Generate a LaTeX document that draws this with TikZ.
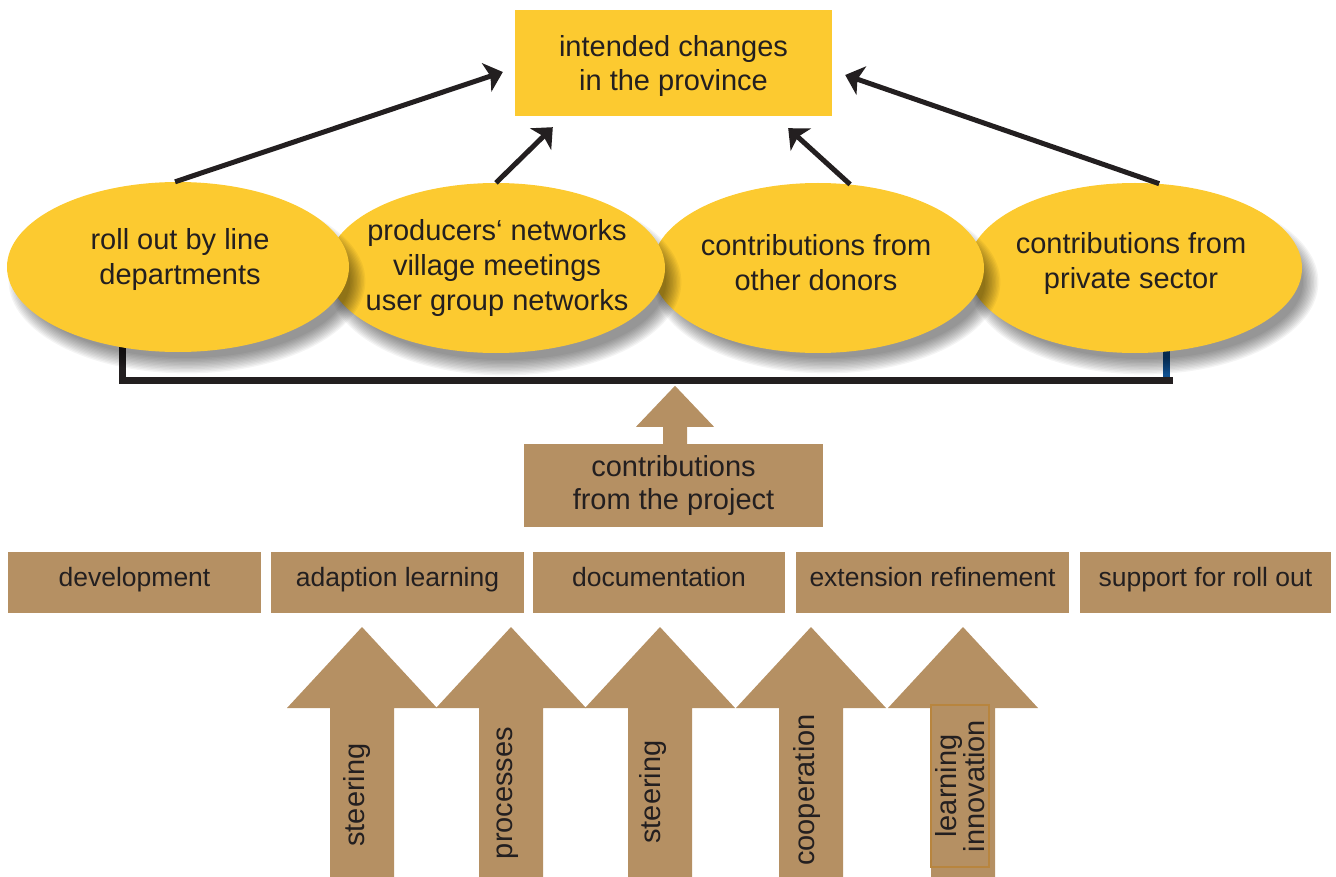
\documentclass[tikz,border=0pt]{standalone}
\usepackage{fontspec}
\setmainfont{Liberation Sans}
\usetikzlibrary{arrows.meta,calc,shapes.geometric}
\definecolor{cyellow}{HTML}{FCCA30}
\definecolor{cbrown}{HTML}{B59063}
\definecolor{ink}{HTML}{231F20}
\definecolor{barblue}{HTML}{10508F}
\definecolor{frameorange}{HTML}{B8853E}
\newcommand\labelfont{\fontsize{29}{34}\selectfont}
\newcommand\stagefont{\fontsize{26.5}{32}\selectfont}
% soft drop shadow under an ellipse: centre x, centre y, x radius, y radius
\newcommand\softshadow[4]{%
  \foreach \k in {0,...,11}{%
    \fill[black,opacity=0.042] (#1+9,#2+14) ellipse
      [x radius={(#3-8+1.4*\k)*1pt}, y radius={(#4-8+1.4*\k)*1pt}];
  }}
\begin{document}
\begin{tikzpicture}[x=1pt,y=-1pt,
  goal/.style={fill=cyellow, minimum width=317pt, minimum height=106pt,
    inner sep=0pt, align=center, text=ink, font=\labelfont, text depth=1pt},
  blob/.style={ellipse, fill=cyellow, inner sep=0pt, minimum height=170pt},
  blobtext/.style={align=center, text=ink, inner sep=0pt,
    font=\fontsize{29}{35}\selectfont},
  link/.style={draw=ink, line width=5pt,
    -{Stealth[length=17pt,width=30pt,inset=4pt]}},
  stagebox/.style={fill=cbrown, minimum height=61pt, inner sep=0pt,
    text=ink, font=\stagefont, text height=19pt, text depth=11pt},
  uplabel/.style={rotate=90, text=ink, inner sep=0pt, font=\labelfont, align=center}
]
\useasboundingbox (0,0) rectangle (1336,877);

% bracket collecting the four contributions
\coordinate (bracketL) at (122,342);
\coordinate (bracketR) at (1173,380);
\draw[ink, line width=7pt, line join=miter] (bracketL) |- (bracketR);
\draw[barblue, line width=7pt] (1166,348) -- (1166,376.5);

% contributions, drawn right to left so each overlaps its right neighbour
\softshadow{1135}{268}{167}{85}
\node[blob, minimum width=334pt] (e4) at (1135,268) {};
\softshadow{818}{268}{166}{84}
\node[blob, minimum width=332pt] (e3) at (818,268) {};
\softshadow{496}{268}{169}{86}
\node[blob, minimum width=338pt] (e2) at (496,268) {};
\softshadow{178}{267}{171}{85}
\node[blob, minimum width=342pt] (e1) at (178,267) {};

\node[blobtext] (t1) at (180,259.6) {roll out by line\\departments};
\node[blobtext] (t2) at (497,267.6) {producers‘ networks\\village meetings\\user group networks};
\node[blobtext] (t3) at (816,263) {contributions from\\other donors};
\node[blobtext] (t4) at (1131,264) {contributions from\\private sector};

% goal
\node[goal] (goal) at (673.5,63) {intended changes\\in the province};

\draw[link] (e1.92) -- ([xshift=-12pt,yshift=-9pt]goal.west);
\draw[link] (e2.90) -- ([xshift=38pt,yshift=-11pt]goal.south west);
\draw[link] (e3.69) -- ([xshift=-44pt,yshift=-12pt]goal.south east);
\draw[link] (e4.74) -- ([xshift=13pt,yshift=-12pt]goal.east);

% project contribution
\node[fill=cbrown, minimum width=299pt, minimum height=83pt, inner sep=0pt,
  align=center, text=ink, font=\fontsize{29}{33}\selectfont]
  (proj) at (673.5,485.5) {contributions\\from the project};
\fill[cbrown] ($(proj.north)+(-10.5,0)$) -- ++(0,-17) -- ++(-27,0)
  -- ($(proj.north)+(1.5,-58)$) -- ($(proj.north)+(40.5,-17)$)
  -- ++(-27,0) -- ($(proj.north)+(13.5,0)$) -- cycle;

% project stages
\node[stagebox, minimum width=253pt] (s1) at (134.5,582.5) {development};
\node[stagebox, minimum width=253pt] (s2) at (397.5,582.5) {adaption learning};
\node[stagebox, minimum width=252pt] (s3) at (659,582.5) {documentation};
\node[stagebox, minimum width=273pt] (s4) at (932.5,582.5) {extension refinement};
\node[stagebox, minimum width=251pt] (s5) at (1205.5,582.5) {support for roll out};

% driving forces
\foreach \x in {362,511,660,811,963}{
  \fill[cbrown] (\x-32,877) -- (\x-32,708) -- (\x-75,708) -- (\x,627)
    -- (\x+75,708) -- (\x+32,708) -- (\x+32,877) -- cycle;
}
\node[uplabel] (f1) at (357,795) {steering};
\node[uplabel] (f2) at (507.5,793) {processes};
\node[uplabel] (f3) at (653,792) {steering};
\node[uplabel] (f4) at (806.5,790) {cooperation};
\node[uplabel, draw=frameorange, line width=1.5pt, minimum width=162pt,
  minimum height=58pt, font=\fontsize{29}{23}\selectfont]
  (f5) at (960,786) {learning\\innovation};
\end{tikzpicture}
\end{document}
